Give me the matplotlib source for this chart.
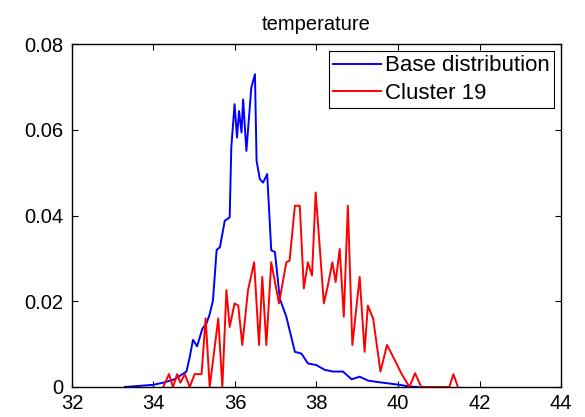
import matplotlib

matplotlib.use("Agg")
import matplotlib.pyplot as plt

plt.rcParams["font.family"] = ["Liberation Sans", "DejaVu Sans"]

# base distribution (blue)
base_x = [33.30, 33.99, 34.24, 34.52, 34.81, 34.89, 34.97, 35.07, 35.20, 35.30,
          35.38, 35.46, 35.55, 35.63, 35.75, 35.87, 35.91, 35.99, 36.05, 36.10,
          36.16, 36.20, 36.28, 36.35, 36.40, 36.49, 36.53, 36.61, 36.69, 36.79,
          36.89, 36.98, 37.10, 37.26, 37.47, 37.63, 37.79, 38.00, 38.20, 38.40,
          38.65, 38.86, 39.06, 39.26, 39.47, 39.71, 40.04, 40.28, 40.50]
base_y = [0.0, 0.0005, 0.001, 0.0018, 0.0036, 0.007, 0.011, 0.0095, 0.0136, 0.0148,
          0.017, 0.0202, 0.032, 0.0326, 0.0388, 0.0396, 0.0559, 0.066, 0.0582, 0.0644,
          0.0594, 0.0671, 0.0551, 0.0636, 0.0698, 0.073, 0.0528, 0.0485, 0.0477, 0.0497,
          0.0319, 0.0315, 0.0206, 0.0164, 0.0082, 0.0078, 0.0055, 0.0051, 0.004, 0.0036,
          0.0036, 0.0018, 0.0024, 0.0015, 0.0012, 0.0009, 0.0005, 0.0001, 0.0]

# cluster 19 (red)
clus_x = [34.24, 34.38, 34.48, 34.58, 34.66, 34.77, 34.89, 35.01, 35.18, 35.28,
          35.38, 35.59, 35.69, 35.79, 35.87, 35.99, 36.08, 36.18, 36.32, 36.47,
          36.59, 36.67, 36.77, 36.89, 37.08, 37.26, 37.34, 37.47, 37.59, 37.69,
          37.79, 37.89, 37.98, 38.08, 38.18, 38.28, 38.39, 38.47, 38.57, 38.67,
          38.77, 38.88, 39.06, 39.18, 39.26, 39.39, 39.57, 39.73, 39.92, 40.08,
          40.28, 40.42, 40.57, 41.26, 41.36, 41.47]
clus_y = [0.0, 0.003, 0.0, 0.003, 0.001, 0.003, 0.0, 0.003, 0.003, 0.016,
          0.0, 0.016, 0.0, 0.0226, 0.014, 0.0195, 0.019, 0.0098, 0.0226, 0.0291,
          0.0098, 0.0257, 0.0098, 0.0291, 0.0195, 0.0291, 0.0295, 0.0423, 0.0423, 0.023,
          0.0291, 0.026, 0.0454, 0.0326, 0.0195, 0.0237, 0.0291, 0.0245, 0.0322, 0.0164,
          0.0423, 0.0098, 0.0257, 0.0082, 0.019, 0.016, 0.0036, 0.0098, 0.0063, 0.0032,
          0.0, 0.0032, 0.0, 0.0, 0.003, 0.0]

x_ticks = [32, 34, 36, 38, 40, 42, 44]
y_ticks = [0, 0.02, 0.04, 0.06, 0.08]
y_labels = ["0", "0.02", "0.04", "0.06", "0.08"]

fig = plt.figure(figsize=(5.85, 4.17), dpi=100)
ax = fig.add_axes([0.123, 0.072, 0.836, 0.822])

ax.plot(base_x, base_y, color=(0, 0, 1), lw=1.4, label="Base distribution")
ax.plot(clus_x, clus_y, color=(1, 0, 0), lw=1.4, label="Cluster 19")

ax.set_xlim(32, 44)
ax.set_ylim(0, 0.08)
ax.set_xticks(x_ticks)
ax.set_xticklabels([str(t) for t in x_ticks])
ax.set_yticks(y_ticks)
ax.set_yticklabels(y_labels)
ax.tick_params(direction="in", length=4, width=0.8, top=True, right=True,
               labelsize=14.5)
ax.tick_params(axis="x", pad=5)
ax.tick_params(axis="y", pad=6.5)
for s in ax.spines.values():
    s.set_linewidth(1.0)

ax.set_title("temperature", fontsize=14.5, pad=10)

leg = ax.legend(loc="upper right", fontsize=16, fancybox=False, edgecolor="k",
                framealpha=1, handlelength=2.15, handletextpad=0.18,
                borderaxespad=0.3, borderpad=0.2, labelspacing=0.3)
leg.get_frame().set_linewidth(0.8)

fig.savefig("out.png", dpi=100)
